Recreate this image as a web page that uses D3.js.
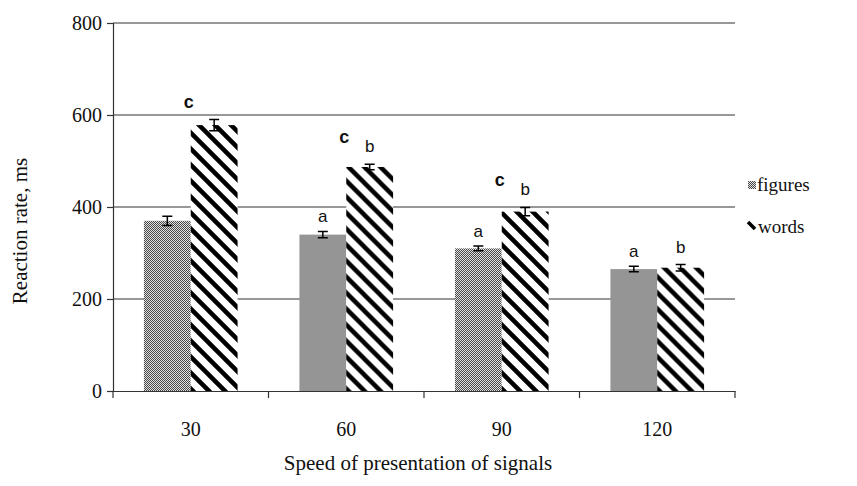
<!DOCTYPE html>
<html>
<head>
<meta charset="utf-8">
<script src="https://cdn.jsdelivr.net/npm/d3@7"></script>
<style>
  body { margin: 0; background: #fff; }
  text { font-family: "Liberation Serif", "Times New Roman", serif; fill: #111; }
  .sig { font-family: "Liberation Sans", Arial, sans-serif; }
</style>
</head>
<body>
<script>
// data
var speeds = ["30", "60", "90", "120"];
var series = ["figures", "words"];
var figures = [370, 340, 310, 265];
var words = [578, 487, 390, 268];
var figuresErr = [10, 7, 5, 6];
var wordsErr = [12, 6, 9, 7];
var figuresSig = ["", "a", "a", "a"];
var wordsSig = ["", "b", "b", "b"];
var wordsSig2 = ["c", "c", "c", ""];
var yTicks = [0, 200, 400, 600, 800];

var margin = {top: 23, right: 122, bottom: 95, left: 113},
    width = 857 - margin.left - margin.right,
    height = 486 - margin.top - margin.bottom;

var svg = d3.select("body").append("svg")
    .attr("width", 857)
    .attr("height", 486);

var defs = svg.append("defs");

// dotted grey fill for figures
var dots = defs.append("pattern")
    .attr("id", "dots")
    .attr("patternUnits", "userSpaceOnUse")
    .attr("width", 2).attr("height", 2);
dots.append("rect").attr("width", 2).attr("height", 2).attr("fill", "#e2e2e2");
dots.append("rect").attr("width", 1).attr("height", 1).attr("fill", "#484848");
dots.append("rect").attr("x", 1).attr("y", 1).attr("width", 1).attr("height", 1).attr("fill", "#484848");

// black diagonal hatch for words
var hatch = defs.append("pattern")
    .attr("id", "hatch")
    .attr("patternUnits", "userSpaceOnUse")
    .attr("width", 16).attr("height", 16);
hatch.append("rect").attr("width", 16).attr("height", 16).attr("fill", "#fff");
hatch.append("path")
    .attr("d", "M-4,-4L20,20M-4,12L4,20M12,-4L20,4")
    .attr("stroke", "#000")
    .attr("stroke-width", 4.5);

var g = svg.append("g")
    .attr("transform", "translate(" + margin.left + "," + margin.top + ")");

var x0 = d3.scaleBand().domain(speeds).range([0, width]).padding(0);
var x1 = d3.scaleBand().domain(series).range([0, x0.bandwidth()])
    .paddingInner(0).paddingOuter(0.66);
var y = d3.scaleLinear().domain([0, 800]).range([height, 0]);

// grid lines
g.append("g").selectAll("line")
  .data(yTicks.filter(function(d) { return d > 0; }))
  .enter().append("line")
    .attr("x1", 0).attr("x2", width)
    .attr("y1", function(d) { return y(d); })
    .attr("y2", function(d) { return y(d); })
    .attr("stroke", "#333").attr("stroke-width", 1.2);

// y axis
var yAxis = g.append("g")
    .call(d3.axisLeft(y).tickValues(yTicks).tickSize(6).tickPadding(5));
yAxis.selectAll("text").style("font-size", "20px")
    .style("font-family", "Liberation Serif, serif").attr("fill", "#111");
yAxis.selectAll("line, path").attr("stroke", "#333").attr("stroke-width", 1.2);

// x axis
var xAxis = g.append("g")
    .attr("transform", "translate(0," + height + ")")
    .call(d3.axisBottom(x0).tickSize(0).tickPadding(31).tickSizeOuter(0));
xAxis.selectAll("text").style("font-size", "20px")
    .style("font-family", "Liberation Serif, serif").attr("fill", "#111");
xAxis.select("path").attr("stroke", "#333").attr("stroke-width", 1.2);
xAxis.append("g").selectAll("line")
  .data(speeds.map(function(d) { return x0(d); }).concat([width]))
  .enter().append("line")
    .attr("x1", function(d) { return d; }).attr("x2", function(d) { return d; })
    .attr("y1", 0).attr("y2", 7)
    .attr("stroke", "#333").attr("stroke-width", 1.2);

// bars
var rows = speeds.map(function(s, i) {
  return {
    speed: s,
    bars: [
      {key: "figures", v: figures[i], e: figuresErr[i], sig: figuresSig[i], sig2: ""},
      {key: "words", v: words[i], e: wordsErr[i], sig: wordsSig[i], sig2: wordsSig2[i]}
    ]
  };
});

var grp = g.selectAll(".grp").data(rows).enter().append("g")
    .attr("transform", function(d) { return "translate(" + x0(d.speed) + ",0)"; });

var bar = grp.selectAll(".bar").data(function(d) { return d.bars; }).enter().append("g");

bar.append("rect")
    .attr("x", function(d) { return x1(d.key); })
    .attr("y", function(d) { return y(d.v); })
    .attr("width", x1.bandwidth())
    .attr("height", function(d) { return height - y(d.v); })
    .attr("fill", function(d) { return d.key == "figures" ? "url(#dots)" : "url(#hatch)"; });

// error bars
bar.append("path")
    .attr("d", function(d) {
      var cx = x1(d.key) + x1.bandwidth() / 2, t = y(d.v + d.e), b = y(d.v - d.e);
      return "M" + (cx - 5) + "," + t + "H" + (cx + 5) + "M" + cx + "," + t + "V" + b +
             "M" + (cx - 5) + "," + b + "H" + (cx + 5);
    })
    .attr("stroke", "#000").attr("stroke-width", 1.5).attr("fill", "none");

// significance letters
bar.append("text")
    .attr("class", "sig")
    .attr("x", function(d) { return x1(d.key) + x1.bandwidth() / 2; })
    .attr("y", function(d) { return y(d.v + d.e) - (d.key == "figures" ? 9 : 12); })
    .attr("text-anchor", "middle")
    .style("font-size", "17px")
    .text(function(d) { return d.sig; });

bar.append("text")
    .attr("class", "sig")
    .attr("x", function(d) { return x1(d.key) - 2; })
    .attr("y", function(d) { return y(d.v + d.e) - (d.sig ? 21 : 12); })
    .attr("text-anchor", "middle")
    .style("font-size", "18px")
    .style("font-weight", "bold")
    .text(function(d) { return d.sig2; });

// axis titles
svg.append("text")
    .attr("transform", "translate(27," + (margin.top + 208) + ") rotate(-90)")
    .attr("text-anchor", "middle")
    .style("font-size", "21px")
    .text("Reaction rate, ms");

svg.append("text")
    .attr("x", margin.left + width / 2 - 6)
    .attr("y", 470)
    .attr("text-anchor", "middle")
    .style("font-size", "21px")
    .text("Speed of presentation of signals");

// legend
var leg = svg.append("g").attr("transform", "translate(" + (margin.left + width + 8) + ",0)");
leg.append("rect").attr("x", 5).attr("y", 181).attr("width", 8).attr("height", 8)
    .attr("fill", "url(#dots)");
leg.append("text").attr("x", 14).attr("y", 191).style("font-size", "19px").text("figures");
leg.append("line").attr("x1", 5).attr("y1", 222).attr("x2", 12).attr("y2", 229)
    .attr("stroke", "#000").attr("stroke-width", 3.5);
leg.append("text").attr("x", 15).attr("y", 233).style("font-size", "19px").text("words");
</script>
</body>
</html>
